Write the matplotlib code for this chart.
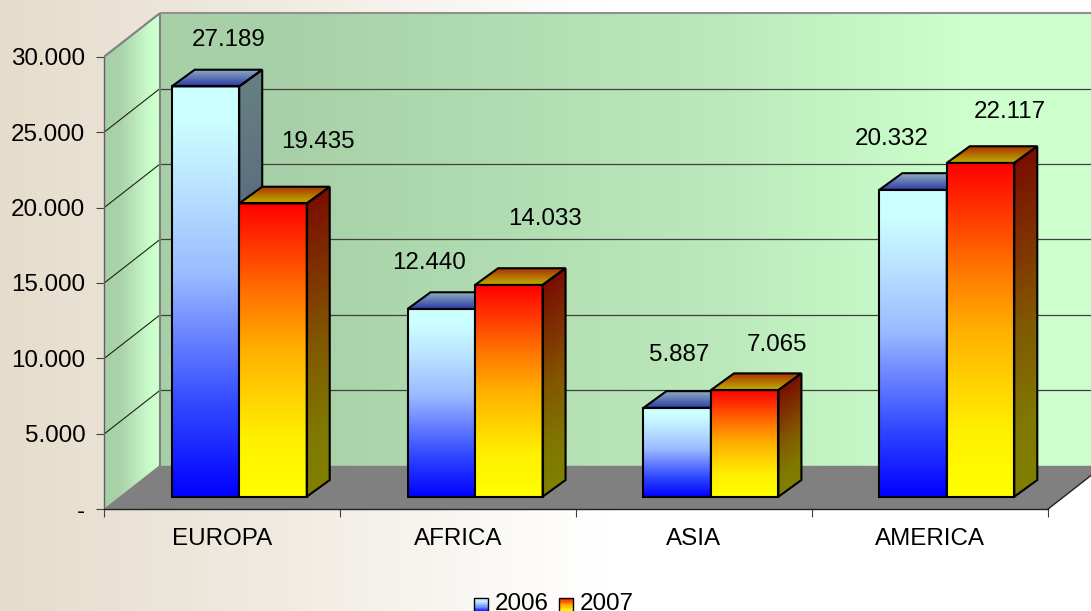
import numpy as np
import matplotlib
matplotlib.use("Agg")
import matplotlib.pyplot as plt
from matplotlib.colors import LinearSegmentedColormap
from matplotlib.lines import Line2D
from matplotlib.patches import Polygon, Rectangle
from matplotlib.legend_handler import HandlerBase
from matplotlib.transforms import Affine2D, IdentityTransform
from matplotlib.ticker import FuncFormatter, MultipleLocator

categories = ["EUROPA", "AFRICA", "ASIA", "AMERICA"]
series_names = ["2006", "2007"]
values_2006 = [27189, 12440, 5887, 20332]
values_2007 = [19435, 14033, 7065, 22117]
y_ticks = [0, 5000, 10000, 15000, 20000, 25000, 30000]

# label offsets (px) from the top-centre of each bar's front face
label_off_2006 = [(23, 46), (-12, 46), (2, 53), (-21, 51)]
label_off_2007 = [(45, 61), (36, 66), (32, 45), (29, 51)]

plt.rcParams["font.family"] = ["Liberation Sans", "DejaVu Sans"]
FS = 17.4
W, H = 1091, 611
fig = plt.figure(figsize=(W / 100, H / 100), dpi=100)

bg = fig.add_axes([0, 0, 1, 1], zorder=0)
bg.axis("off")
bg_cmap = LinearSegmentedColormap.from_list(
    "bg", [(0, "#E5DCCB"), (0.25, "#F0EBE2"), (0.5, "#FDFCFA"), (0.56, "#FFFFFF"), (1, "#FFFFFF")])
bg.imshow(np.linspace(0, 1, 512).reshape(1, -1), cmap=bg_cmap, aspect="auto", vmin=0, vmax=1)

ax = fig.add_axes([104.3 / W, (H - 509.3) / H, (1047.7 - 104.3) / W, (509.3 - 56.6) / H], zorder=1)
ax.patch.set_alpha(0)
ax.set_xlim(-0.5, 3.5)
ax.set_ylim(0, 30000)
ax.autoscale(False)
for s in ("top", "right"):
    ax.spines[s].set_visible(False)
ax.spines["left"].set_color("#606060")
ax.spines["left"].set_linewidth(1.0)
ax.spines["bottom"].set_color("#202020")
ax.spines["bottom"].set_linewidth(1.0)
ax.set_yticks(y_ticks)
ax.yaxis.set_major_formatter(FuncFormatter(
    lambda v, _: "-" if v == 0 else f"{int(v):,}".replace(",", ".")))
ax.set_xticks(range(len(categories)), categories)
ax.xaxis.set_minor_locator(MultipleLocator(1, offset=0.5))
ax.tick_params(axis="y", length=5.8, width=0.8, color="#404040", pad=8, labelsize=FS)
ax.tick_params(axis="x", which="major", length=0, pad=13.8, labelsize=FS)
ax.tick_params(axis="x", which="minor", length=5.8, width=0.8, color="#404040")

T = ax.transData
ID = IdentityTransform()
_z = [1.0]


def nz():
    _z[0] += 0.001
    return _z[0]


def px(x, y, dx=0, dy=0):
    p = T.transform((x, y))
    return np.array([p[0] + dx, p[1] + dy])


def face(p0, pu, pv, stops, along="v"):
    """Gradient-fill the parallelogram p0, p0+pu, p0+pv (pixels)."""
    cm = LinearSegmentedColormap.from_list("f", stops)
    g = np.linspace(0, 1, 256)
    arr = cm(np.tile(g[:, None], (1, 2))) if along == "v" else cm(np.tile(g[None, :], (2, 1)))
    tr = Affine2D.from_values(pu[0], pu[1], pv[0], pv[1], p0[0], p0[1])
    ax.imshow(arr, extent=(0, 1, 0, 1), origin="lower", aspect="auto", transform=tr,
              interpolation="bilinear", clip_on=False, zorder=nz())


def outline(pts, color="black", lw=1.5):
    ax.add_patch(Polygon(pts, closed=True, facecolor="none", edgecolor=color, linewidth=lw,
                         transform=ID, clip_on=False, joinstyle="miter", zorder=nz()))


def seg(a, b, color, lw):
    ax.add_line(Line2D([a[0], b[0]], [a[1], b[1]], color=color, lw=lw, transform=ID,
                       clip_on=False, zorder=nz(), solid_capstyle="butt"))


# ---- walls and floor (depth in pixels)
WX, WY = 55.7, 43.5
x0, x1 = ax.get_xlim()
ymax = ax.get_ylim()[1]
o = px(x0, 0)
face(o, (WX, WY), px(x0, ymax) - o,
     [(0, "#A8D0A8"), (0.3, "#AAD3AA"), (0.85, "#CCFFCC"), (1, "#CCFFCC")], along="u")
b0 = px(x0, 0, WX, WY)
r = px(x1, 0)
b_width = r[0] + WX - b0[0]
face(b0, (b_width, 0), px(x0, ymax) - o,
     [(0, "#A8D0A8"), (0.15, "#A8D1A8"), (0.6, "#BCE9BC"), (0.85, "#CCFFCC"), (1, "#CCFFCC")],
     along="u")
ax.add_patch(Polygon([o, b0, r + (WX, WY), r], closed=True, facecolor="#808080",
                     edgecolor="none", transform=ID, clip_on=False, zorder=nz()))
seg(r, r + (WX, WY), "#202020", 1.0)
for v in y_ticks[1:-1]:
    a = px(x0, v)
    b = px(x0, v, WX, WY)
    seg(a, b, "#202020", 0.8)
    seg(b, (W + 5, b[1]), "#404040", 0.9)
seg(px(x0, ymax), px(x0, ymax, WX, WY), "#808080", 1.5)
seg(px(x0, 0, WX, WY), px(x0, ymax, WX, WY), "#808080", 1.5)
seg(px(x0, ymax, WX, WY), (W + 5, px(x0, ymax, WX, WY)[1]), "#909090", 1.5)
seg(o, b0, "#808080", 1.0)

# ---- bars
OX, OY = 17, 12.6    # bar offset from the front plane
DX, DY = 23, 16.7    # bar depth
BW = 67.5 / 235.85   # bar width in category units

blue = dict(front=[(0, "#0000FF"), (0.22, "#3048FF"), (0.38, "#6680FF"), (0.54, "#99BBFF"),
                   (0.76, "#BBE4FF"), (0.92, "#CCFFFF"), (1, "#CCFFFF")],
            side=[(0, "#000080"), (0.38, "#334080"), (0.54, "#4D5E80"), (0.76, "#5E7280"),
                  (1, "#668080")],
            top=["#2E3AA8", "#90B0C0"])
red = dict(front=[(0, "#FFFF00"), (0.2, "#FFF000"), (0.5, "#FFB000"), (0.7, "#FF7000"),
                  (1, "#FF0000")],
           side=[(0, "#808000"), (0.2, "#807800"), (0.5, "#805800"), (0.7, "#803800"),
                 (1, "#7A0E00")],
           top=["#C0B000", "#A83000"])


def bar(cat, side, value, st):
    xa, xb = (cat - BW, cat) if side == 0 else (cat, cat + BW)
    p = px(xa, 0, OX, OY)
    q = px(xb, 0, OX, OY)
    t = px(xa, value, OX, OY)
    u = px(xb, value, OX, OY)
    h = t - p
    d = np.array([DX, DY])
    face(q, d, h, st["side"])
    face(t, q - p, d, st["top"])
    face(p, q - p, h, st["front"])
    outline([q, q + d, u + d, u])
    outline([t, t + d, u + d, u])
    outline([p, q, u, t])


for i in range(len(categories)):
    bar(i, 0, values_2006[i], blue)
    bar(i, 1, values_2007[i], red)

for i in range(len(categories)):
    for side, vals, offs in ((0, values_2006, label_off_2006), (1, values_2007, label_off_2007)):
        cx = i + (-BW / 2 if side == 0 else BW / 2)
        ax.annotate(f"{vals[i]:,}".replace(",", "."), xy=(cx, vals[i]), xycoords="data",
                    xytext=(OX + offs[i][0], OY + offs[i][1]), textcoords="offset pixels",
                    ha="center", va="center", fontsize=FS, color="black",
                    annotation_clip=False, zorder=50)


# ---- legend
class GradHandler(HandlerBase):
    def __init__(self, stops):
        super().__init__()
        self.stops = stops

    def create_artists(self, legend, orig, xd, yd, width, height, fontsize, trans):
        cm = LinearSegmentedColormap.from_list("k", self.stops)
        n = 12
        shift = -2.8
        out = []
        for j in range(n):
            out.append(Rectangle((-xd, -yd + shift + height * j / n), width, height / n + 0.1,
                                 facecolor=cm((j + 0.5) / n), edgecolor="none", transform=trans))
        out.append(Rectangle((-xd, -yd + shift), width, height, facecolor="none",
                             edgecolor="black", linewidth=1.0, transform=trans))
        return out


h1 = Rectangle((0, 0), 1, 1, label=series_names[0])
h2 = Rectangle((0, 0), 1, 1, label=series_names[1])
fig.legend(handles=[h1, h2],
           handler_map={h1: GradHandler(blue["front"]), h2: GradHandler(red["front"])},
           ncols=2, frameon=False, fontsize=FS, loc="lower left",
           bbox_to_anchor=(474 / W, -4 / H), borderpad=0, borderaxespad=0,
           handlelength=0.58, handleheight=0.58, handletextpad=0.29, columnspacing=0.41)

fig.savefig("out.png", dpi=100)
